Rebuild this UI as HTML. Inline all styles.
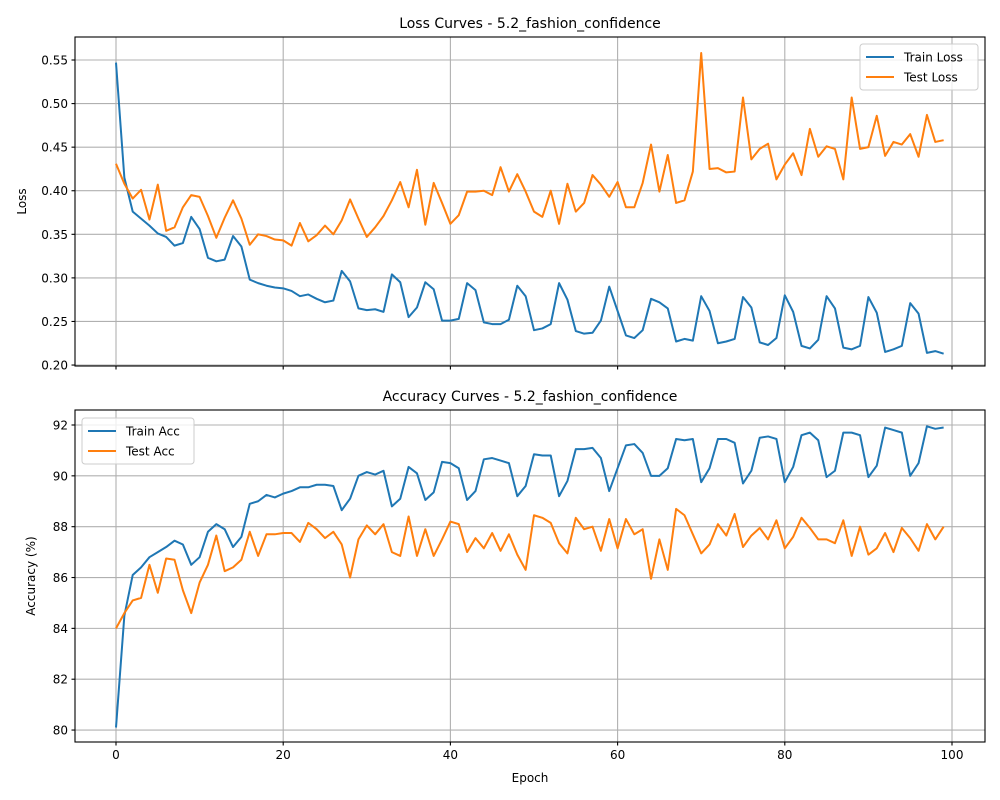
<!DOCTYPE html>
<html><head><meta charset="utf-8"><style>
body{margin:0;background:#fff;}
svg{display:block;font-family:"DejaVu Sans","Liberation Sans",sans-serif;}
</style></head><body>
<svg id="chart" width="1000" height="800" xmlns="http://www.w3.org/2000/svg"></svg>
<script>
const epochs = Array.from({length:100},(_,i)=>i);
const trainLoss=[0.547,0.415,0.376,0.368,0.360,0.351,0.347,0.337,0.340,0.370,0.356,0.323,0.319,0.321,0.348,0.336,0.298,0.294,0.291,0.289,0.288,0.285,0.279,0.281,0.276,0.272,0.274,0.308,0.296,0.265,0.263,0.264,0.261,0.304,0.295,0.255,0.266,0.295,0.287,0.251,0.251,0.253,0.294,0.286,0.249,0.247,0.247,0.252,0.291,0.279,0.240,0.242,0.247,0.294,0.275,0.239,0.236,0.237,0.251,0.290,0.262,0.234,0.231,0.240,0.276,0.272,0.265,0.227,0.230,0.228,0.279,0.262,0.225,0.227,0.230,0.278,0.266,0.226,0.223,0.231,0.280,0.261,0.222,0.219,0.229,0.279,0.265,0.220,0.218,0.222,0.278,0.260,0.215,0.218,0.222,0.271,0.259,0.214,0.216,0.213];
const testLoss=[0.431,0.408,0.391,0.401,0.367,0.407,0.354,0.358,0.381,0.395,0.393,0.371,0.346,0.369,0.389,0.368,0.338,0.350,0.348,0.344,0.343,0.337,0.363,0.342,0.349,0.360,0.350,0.366,0.390,0.368,0.347,0.358,0.371,0.389,0.410,0.381,0.424,0.361,0.409,0.386,0.362,0.372,0.399,0.399,0.400,0.395,0.427,0.399,0.419,0.399,0.376,0.370,0.400,0.362,0.408,0.376,0.386,0.418,0.407,0.393,0.410,0.381,0.381,0.409,0.453,0.399,0.441,0.386,0.389,0.422,0.558,0.425,0.426,0.421,0.422,0.507,0.436,0.448,0.454,0.413,0.430,0.443,0.418,0.471,0.439,0.451,0.448,0.413,0.507,0.448,0.450,0.486,0.440,0.456,0.453,0.465,0.439,0.487,0.456,0.458];
const trainAcc=[80.1,84.5,86.1,86.4,86.8,87.0,87.2,87.45,87.3,86.5,86.8,87.8,88.1,87.9,87.2,87.6,88.9,89.0,89.25,89.15,89.3,89.4,89.55,89.55,89.65,89.65,89.6,88.65,89.1,90.0,90.15,90.05,90.2,88.8,89.1,90.35,90.1,89.05,89.35,90.55,90.5,90.3,89.05,89.4,90.65,90.7,90.6,90.5,89.2,89.6,90.85,90.8,90.8,89.2,89.8,91.05,91.05,91.1,90.7,89.4,90.3,91.2,91.25,90.9,90.0,90.0,90.3,91.45,91.4,91.45,89.75,90.3,91.45,91.45,91.3,89.7,90.2,91.5,91.55,91.45,89.75,90.35,91.6,91.7,91.4,89.95,90.2,91.7,91.7,91.6,89.95,90.4,91.9,91.8,91.7,90.0,90.5,91.95,91.85,91.9];
const testAcc=[84.0,84.6,85.1,85.2,86.5,85.4,86.75,86.7,85.5,84.6,85.8,86.5,87.65,86.25,86.4,86.7,87.8,86.85,87.7,87.7,87.75,87.75,87.4,88.15,87.9,87.55,87.8,87.3,86.0,87.5,88.05,87.7,88.1,87.0,86.85,88.4,86.85,87.9,86.85,87.5,88.2,88.1,87.0,87.55,87.15,87.75,87.05,87.7,86.9,86.3,88.45,88.35,88.15,87.35,86.95,88.35,87.9,88.0,87.05,88.3,87.15,88.3,87.7,87.9,85.95,87.5,86.3,88.7,88.45,87.7,86.95,87.3,88.1,87.65,88.5,87.2,87.65,87.95,87.5,88.25,87.15,87.6,88.35,87.95,87.5,87.5,87.35,88.25,86.85,88.0,86.9,87.15,87.75,87.0,87.95,87.55,87.05,88.1,87.5,88.0];
const xTicks=[0,20,40,60,80,100];
const lossTicks=[0.20,0.25,0.30,0.35,0.40,0.45,0.50,0.55];
const accTicks=[80,82,84,86,88,90,92];

const NS="http://www.w3.org/2000/svg";
const svg=document.getElementById('chart');
function el(tag,attrs,parent,text){const e=document.createElementNS(NS,tag);for(const k in attrs)e.setAttribute(k,attrs[k]);if(text!==undefined)e.textContent=text;(parent||svg).appendChild(e);return e;}
const L=75,R=985;
const xS=v=>116+(v)*8.36;

function panel(top,bot,yMin,yMax,ticks,fmt,series,names,title,ylabel,legendPos,showXLabels,key){
  const g=el('g',{});
  
  
  const yS=v=>bot-(v-yMin)/(yMax-yMin)*(bot-top);
  xTicks.forEach(t=>{const x=xS(t);
    const gl=el('line',{x1:x,x2:x,y1:top,y2:bot,stroke:'#b0b0b0','stroke-width':1.1},g);
    
    el('line',{x1:x,x2:x,y1:bot,y2:bot+3.5,stroke:'#000','stroke-width':1.1},g);
    if(showXLabels){const tl=el('text',{x:x,y:bot+17,'font-size':12,'text-anchor':'middle'},g,String(t));
      }
  });
  ticks.forEach(t=>{const y=yS(t);
    const gl=el('line',{x1:L,x2:R,y1:y,y2:y,stroke:'#b0b0b0','stroke-width':1.1},g);
    
    el('line',{x1:L-3.5,x2:L,y1:y,y2:y,stroke:'#000','stroke-width':1.1},g);
    const tl=el('text',{x:L-7,y:y+4.5,'font-size':12,'text-anchor':'end'},g,fmt(t));
    
  });
  const colors=['#1f77b4','#ff7f0e'];
  series.forEach((s,i)=>{
    const d=s.map((v,j)=>(j?'L':'M')+xS(epochs[j]).toFixed(2)+','+yS(v).toFixed(2)).join('');
    const p=el('path',{d:d,fill:'none',stroke:colors[i],'stroke-width':2,'stroke-linejoin':'round'},g);
    
    
  });
  const fr=el('rect',{x:L,y:top,width:R-L,height:bot-top,fill:'none',stroke:'#000','stroke-width':1.1},g);
  
  const tt=el('text',{x:(L+R)/2,y:top-9,'font-size':14,'text-anchor':'middle'},g,title);
  
  const yl=el('text',{x:0,y:0,'font-size':12,'text-anchor':'middle',transform:`translate(${key==='loss'?26:35},${(top+bot)/2}) rotate(-90)`},g,ylabel);
  
  const [lx,ly,lw]=legendPos;
  const lg=el('g',{},g);
  
  el('rect',{x:lx,y:ly,width:lw,height:46,rx:3,fill:'#fff','fill-opacity':0.8,stroke:'#cccccc','stroke-width':1},lg);
  names.forEach((n,i)=>{const yy=ly+13+i*20;
    el('line',{x1:lx+6,x2:lx+34,y1:yy,y2:yy,stroke:colors[i],'stroke-width':2},lg);
    const t=el('text',{x:lx+44,y:yy+4.5,'font-size':12},lg,n);
    
  });
}
panel(37,366,0.1989,0.5764,lossTicks,v=>v.toFixed(2),[trainLoss,testLoss],['Train Loss','Test Loss'],'Loss Curves - 5.2_fashion_confidence','Loss',[860,44,118],false,'loss');
panel(410,742,79.53,92.59,accTicks,v=>String(v),[trainAcc,testAcc],['Train Acc','Test Acc'],'Accuracy Curves - 5.2_fashion_confidence','Accuracy (%)',[82,418,112],true,'accuracy');
const xl=el('text',{x:530,y:782,'font-size':12,'text-anchor':'middle'},svg,'Epoch');


</script>
</body></html>
